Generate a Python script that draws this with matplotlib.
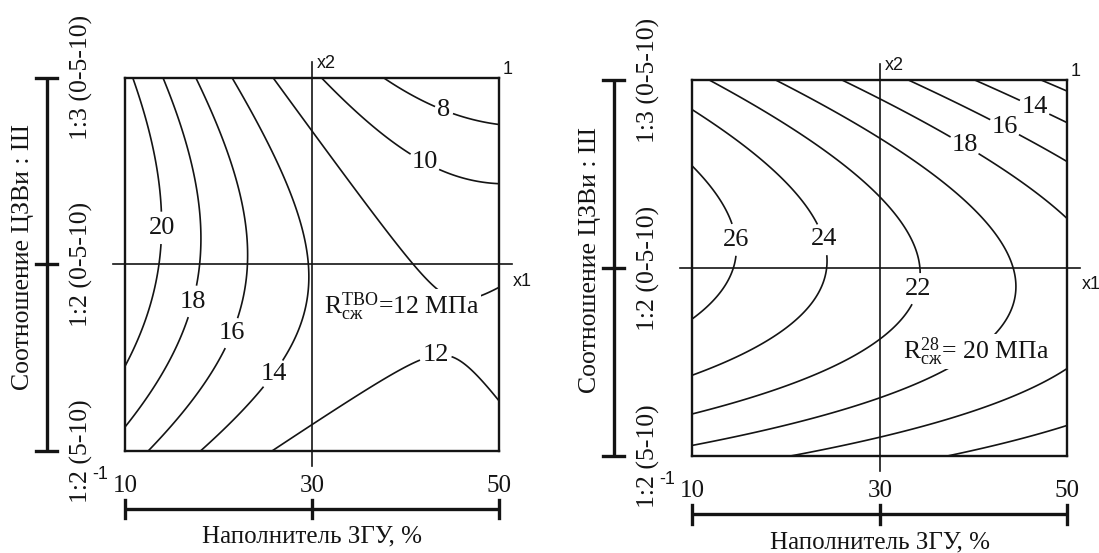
import numpy as np
import matplotlib.pyplot as plt

plt.rcParams['font.family'] = ['Liberation Serif', 'DejaVu Serif']
plt.rcParams['mathtext.fontset'] = 'custom'
plt.rcParams['mathtext.rm'] = 'Liberation Serif'
plt.rcParams['mathtext.it'] = 'Liberation Serif:italic'

# regression coefficients in coded factors: b0, b1, b2, b12, b11, b22
coef_tvo = [13.9, -5.08, -0.45, -2.2, 2.9, -3.1]   # after steam curing
coef_28 = [22.86, -4.02, 0.0, -1.63, 0.0, -6.0]    # 28 days
levels_tvo = [8, 10, 12, 14, 16, 18, 20]
levels_28 = [12, 14, 16, 18, 20, 22, 24, 26]

x_codes = [-1, 0, 1]
x_ticklabels = ['10', '30', '50']
y_ticklabels = ['1:2 (5-10)', '1:2 (0-5-10)', '1:3 (0-5-10)']
xlabel = 'Наполнитель ЗГУ, %'
ylabel = 'Соотношение ЦЗВи : Ш'

# where the contour labels sit (coded units)
lab_pos_tvo = [(-0.815, 0.195), (-0.635, -0.2), (-0.428, -0.37), (-0.206, -0.587),
               (0.664, -0.512), (0.607, 0.555), (0.705, 0.823)]
lab_pos_28 = [(-0.782, 0.149), (-0.311, 0.149), (0.187, -0.108),
              (0.453, 0.654), (0.667, 0.752), (0.827, 0.858)]

ink = '#141414'


def panel(ax, coef, levels, label_pos, r_text, r_pos):
    g = np.linspace(-1, 1, 301)
    X1, X2 = np.meshgrid(g, g)
    b0, b1, b2, b12, b11, b22 = coef
    Z = b0 + b1*X1 + b2*X2 + b12*X1*X2 + b11*X1**2 + b22*X2**2

    cs = ax.contour(X1, X2, Z, levels=levels, colors=ink, linewidths=1.2)
    txts = ax.clabel(cs, manual=label_pos, inline=True, inline_spacing=3,
                     fmt='%d', fontsize=19)
    for t in txts:
        t.set_rotation(0)
        t.set_color(ink)
    ax.text(r_pos[0], r_pos[1], r_text, ha='center', va='center', fontsize=18.5,
            color=ink, bbox=dict(fc='white', ec='none', pad=1))

    ax.set_xlim(-1, 1)
    ax.set_ylim(-1, 1)
    ax.set_xticks([])
    ax.set_yticks([])
    for s in ax.spines.values():
        s.set_linewidth(1.7)
        s.set_color(ink)

    # coded axes cross
    ax.plot([-1.065, 1.07], [0, 0], color=ink, lw=1.2, clip_on=False)
    ax.plot([0, 0], [-1.08, 1.085], color=ink, lw=1.2, clip_on=False)
    ax.text(0.025, 1.03, 'x2', fontsize=13, family='Liberation Sans', color=ink,
            ha='left', va='bottom')
    ax.text(1.02, 1.0, '1', fontsize=13, family='Liberation Sans', color=ink,
            ha='left', va='bottom')
    ax.text(1.075, -0.045, 'x1', fontsize=13, family='Liberation Sans', color=ink,
            ha='left', va='top')
    ax.text(-1.09, -1.08, '-1', fontsize=13, family='Liberation Sans', color=ink,
            ha='right', va='top')

    # natural scale for x
    ax.plot([x_codes[0], x_codes[-1]], [-1.31, -1.31], color=ink, lw=2.4,
            clip_on=False, solid_capstyle='butt')
    for c, lab in zip(x_codes, x_ticklabels):
        ax.plot([c, c], [-1.26, -1.36], color=ink, lw=2.4, clip_on=False)
        ax.text(c, -1.185, lab, ha='center', va='center', fontsize=18, color=ink)
    ax.text(0, -1.46, xlabel, ha='center', va='center', fontsize=18, color=ink)

    # natural scale for y
    ax.plot([-1.418, -1.418], [x_codes[0], x_codes[-1]], color=ink, lw=2.4,
            clip_on=False, solid_capstyle='butt')
    for c, lab in zip(x_codes, y_ticklabels):
        ax.plot([-1.475, -1.362], [c, c], color=ink, lw=2.4, clip_on=False)
        ax.text(-1.235, c, lab, ha='center', va='center', rotation=90,
                fontsize=18.5, color=ink)
    ax.text(-1.545, 0.04, ylabel, ha='center', va='center', rotation=90,
            fontsize=18.5, color=ink)


fig = plt.figure(figsize=(10.99, 5.53), dpi=100)
ax1 = fig.add_axes([125/1099, (553-451)/553, 374/1099, 373.5/553])
ax2 = fig.add_axes([692.3/1099, (553-456)/553, 375/1099, 376/553])

panel(ax1, coef_tvo, levels_tvo, lab_pos_tvo,
      r'$\mathrm{R}^{\mathrm{ТВО}}_{\mathrm{сж}}$=12 МПа', (0.481, -0.229))
panel(ax2, coef_28, levels_28, lab_pos_28,
      r'$\mathrm{R}^{\mathrm{28}}_{\mathrm{сж}}$= 20 МПа', (0.512, -0.445))

fig.savefig('out.png', dpi=100, facecolor='white')
